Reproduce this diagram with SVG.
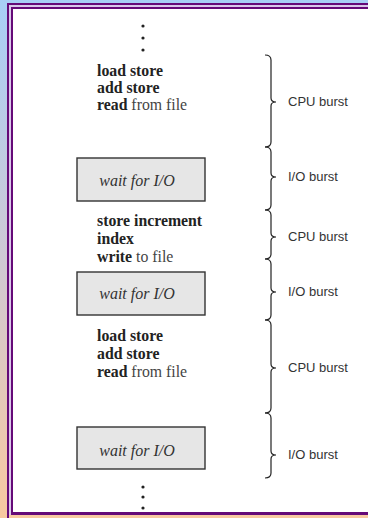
<svg xmlns="http://www.w3.org/2000/svg" width="368" height="518" viewBox="0 0 368 518">
<defs>
<linearGradient id="bg" x1="0" y1="0" x2="0" y2="1">
<stop offset="0" stop-color="#a8cff6"/>
<stop offset="0.5" stop-color="#cfc9d4"/>
<stop offset="1" stop-color="#f8c9a0"/>
</linearGradient>
</defs>
<style>
.code{font-family:"Liberation Serif","Times New Roman",serif;font-size:15.8px;fill:#222}
.b{font-weight:bold}
.r{fill:#444}
.wait{font-family:"Liberation Serif","Times New Roman",serif;font-size:16px;font-style:italic;fill:#333}
.lbl{font-family:"Liberation Sans",Arial,sans-serif;font-size:13px;fill:#333}
.box{fill:#e6e6e6;stroke:#333;stroke-width:1.4}
.br{fill:none;stroke:#222;stroke-width:1.2}
.dot{fill:#222}
</style>
<rect width="368" height="518" fill="url(#bg)"/>
<rect x="7" y="3" width="2" height="515" fill="#650a78"/>
<rect x="7" y="3" width="361" height="2" fill="#650a78"/>
<rect x="9" y="5" width="359" height="510" fill="#d9c8ea"/>
<rect x="11" y="7" width="357" height="508" fill="#650a78"/>
<rect x="13" y="9" width="355" height="503" fill="#ffffff"/>

<g id="dots-top">
<circle class="dot" cx="143" cy="26" r="1.6"/>
<circle class="dot" cx="143" cy="38" r="1.6"/>
<circle class="dot" cx="143" cy="50" r="1.6"/>
</g>

<g id="cpu1">
<text class="code" x="97" y="76"><tspan class="b">load store</tspan></text>
<text class="code" x="97" y="93"><tspan class="b">add store</tspan></text>
<text class="code" x="97" y="110"><tspan class="b">read</tspan><tspan class="r"> from file</tspan></text>
</g>

<g id="io1">
<rect class="box" x="77" y="158" width="128" height="43"/>
<text class="wait" x="137" y="186" text-anchor="middle">wait for I/O</text>
</g>

<g id="cpu2">
<text class="code" x="97" y="226"><tspan class="b">store increment</tspan></text>
<text class="code" x="97" y="244"><tspan class="b">index</tspan></text>
<text class="code" x="97" y="262"><tspan class="b">write</tspan><tspan class="r"> to file</tspan></text>
</g>

<g id="io2">
<rect class="box" x="77" y="272" width="128" height="43"/>
<text class="wait" x="137" y="299" text-anchor="middle">wait for I/O</text>
</g>

<g id="cpu3">
<text class="code" x="97" y="341"><tspan class="b">load store</tspan></text>
<text class="code" x="97" y="359"><tspan class="b">add store</tspan></text>
<text class="code" x="97" y="377"><tspan class="b">read</tspan><tspan class="r"> from file</tspan></text>
</g>

<g id="io3">
<rect class="box" x="77" y="427" width="128" height="42"/>
<text class="wait" x="137" y="456" text-anchor="middle">wait for I/O</text>
</g>

<g id="dots-bottom">
<circle class="dot" cx="143" cy="487" r="1.6"/>
<circle class="dot" cx="143" cy="497" r="1.6"/>
<circle class="dot" cx="143" cy="508" r="1.6"/>
</g>

<g id="braces">
<path class="br" d="M265,55 Q271,55 271,60 L271,98 Q271,102 276,102 Q271,102 271,106 L271,142 Q271,147 265,147"/>
<path class="br" d="M265,147 Q271,147 271,152 L271,173 Q271,177 276,177 Q271,177 271,181 L271,205 Q271,210 265,210"/>
<path class="br" d="M265,210 Q271,210 271,215 L271,233 Q271,237 276,237 Q271,237 271,241 L271,254 Q271,259 265,259"/>
<path class="br" d="M265,259 Q271,259 271,264 L271,288 Q271,292 276,292 Q271,292 271,296 L271,315 Q271,320 265,320"/>
<path class="br" d="M265,320 Q271,320 271,325 L271,364 Q271,368 276,368 Q271,368 271,372 L271,408 Q271,413 265,413"/>
<path class="br" d="M265,413 Q271,413 271,418 L271,451 Q271,455 276,455 Q271,455 271,459 L271,473 Q271,478 265,478"/>
</g>

<g id="labels">
<text class="lbl" x="288" y="106">CPU burst</text>
<text class="lbl" x="288" y="181">I/O burst</text>
<text class="lbl" x="288" y="241">CPU burst</text>
<text class="lbl" x="288" y="296">I/O burst</text>
<text class="lbl" x="288" y="372">CPU burst</text>
<text class="lbl" x="288" y="459">I/O burst</text>
</g>
</svg>
